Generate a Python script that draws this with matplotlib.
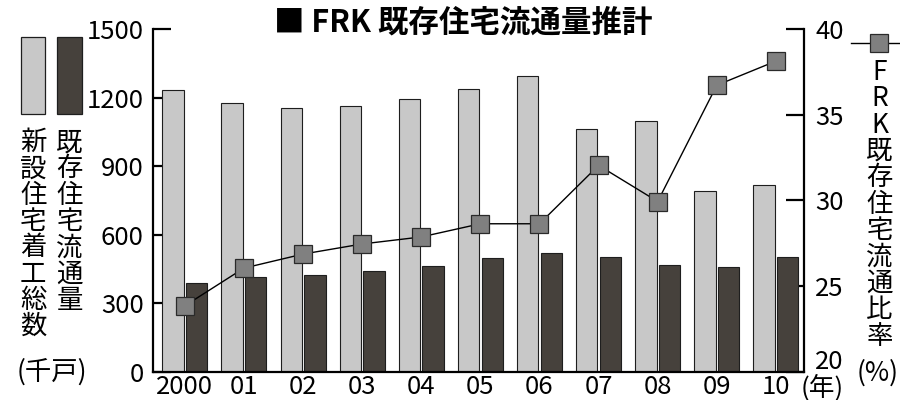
import matplotlib
matplotlib.use("Agg")
import matplotlib.pyplot as plt
from matplotlib.patches import Rectangle
from matplotlib.lines import Line2D
from matplotlib.transforms import ScaledTranslation
import numpy as np

plt.rcParams['font.family'] = ['Noto Sans CJK JP', 'DejaVu Sans']

years = ["2000", "01", "02", "03", "04", "05", "06", "07", "08", "09", "10"]
new_starts = [1234, 1178, 1155, 1164, 1193, 1240, 1294, 1064, 1097, 790, 816]
existing = [387, 415, 422, 440, 462, 498, 521, 501, 469, 460, 502]
ratio = [23.85, 26.05, 26.87, 27.46, 27.87, 28.64, 28.64, 32.05, 29.94, 36.73, 38.14]

left_ticks = [0, 300, 600, 900, 1200, 1500]
right_ticks = [20, 25, 30, 35, 40]

title = "■ FRK 既存住宅流通量推計"
label_new = "新設住宅着工総数"
label_exist = "既存住宅流通量"
label_ratio = "FRK既存住宅流通比率"
unit_left = "(千戸)"
unit_right = "(%)"
unit_x = "(年)"

LIGHT = "#c8c8c8"
DARK = "#46413c"
EDGE = "#1e1e1e"
MARK = "#808080"

fig = plt.figure(figsize=(9, 4), dpi=100)
ax = fig.add_axes([0.1703, 0.0708, 0.7234, 0.856])
ax_r = ax.twinx()   # right axis (drawn below bars)
ax_l = ax.twinx()   # line layer (drawn above bars)
ax_r.set_zorder(0)
ax.set_zorder(1)
ax_l.set_zorder(2)
ax.patch.set_visible(False)
ax_l.patch.set_visible(False)

x = np.arange(len(years))
w = 0.36
off = 0.2
ax.bar(x - off, new_starts, width=w, color=LIGHT, edgecolor=EDGE, linewidth=0.8, zorder=2)
ax.bar(x + off, existing, width=w, color=DARK, edgecolor=EDGE, linewidth=0.8, zorder=2)
ax.set_axisbelow(True)

ax.set_xlim(-0.534, 10.481)
ax.set_ylim(0, 1500)
ax.set_yticks(left_ticks)
ax.set_xticks(x)
ax.set_xticklabels(years)
for s in ['top', 'right']:
    ax.spines[s].set_visible(False)
ax.spines['left'].set_linewidth(1.6)
ax.spines['bottom'].set_linewidth(1.6)
ax.tick_params(axis='y', direction='in', length=13, width=1.6, pad=7, labelsize=18.5)
ax.tick_params(axis='x', length=0, pad=1.5, labelsize=18.5)

ax_r.set_ylim(20, 40)
ax_r.set_yticks(right_ticks)
for s in ['top', 'left', 'bottom']:
    ax_r.spines[s].set_visible(False)
ax_r.spines['right'].set_linewidth(1.6)
ax_r.tick_params(axis='y', direction='in', length=13, width=1.6, pad=8, labelsize=18.5)
# lowest right label sits a little higher in the reference
lab20 = ax_r.get_yticklabels()[0]
lab20.set_transform(lab20.get_transform() + ScaledTranslation(0, 0.13, fig.dpi_scale_trans))

ax_l.set_ylim(20, 40)
ax_l.set_xlim(ax.get_xlim())
for s in ax_l.spines.values():
    s.set_visible(False)
ax_l.set_yticks([])
ax_l.plot(x, ratio, color='black', linewidth=1.0, marker='s', markersize=12.5,
          markerfacecolor=MARK, markeredgecolor='#2a2a2a', markeredgewidth=0.9,
          clip_on=False)

# title
fig.text(0.515, 0.9425, title, ha='center', va='center', fontsize=22, fontweight='bold')

# left legend
fig.add_artist(Rectangle((0.0233, 0.714), 0.0267, 0.194, transform=fig.transFigure,
                         facecolor=LIGHT, edgecolor=EDGE, linewidth=0.9))
fig.add_artist(Rectangle((0.0637, 0.714), 0.0271, 0.194, transform=fig.transFigure,
                         facecolor=DARK, edgecolor=EDGE, linewidth=0.9))
fig.text(0.037, 0.677, "\n".join(label_new), ha='center', va='top', fontsize=19, linespacing=0.965)
fig.text(0.0772, 0.677, "\n".join(label_exist), ha='center', va='top', fontsize=19, linespacing=0.965)
fig.text(0.0572, 0.069, unit_left, ha='center', va='center', fontsize=19)

# right legend
fig.add_artist(Line2D([0.946, 1.0], [0.893, 0.893], transform=fig.transFigure,
                      color='black', linewidth=1.0))
fig.add_artist(Line2D([0.9767], [0.893], transform=fig.transFigure, marker='s',
                      markersize=12.5, markerfacecolor=MARK, markeredgecolor='#2a2a2a',
                      markeredgewidth=0.9, linestyle='none'))
fig.text(0.9772, 0.853, "\n".join(label_ratio), ha='center', va='top', fontsize=19, linespacing=0.97)
fig.text(0.975, 0.068, unit_right, ha='center', va='center', fontsize=19)

# x unit
fig.text(0.913, 0.0655, unit_x, ha='center', va='top', fontsize=18.5)

fig.savefig("out.png", dpi=100)
